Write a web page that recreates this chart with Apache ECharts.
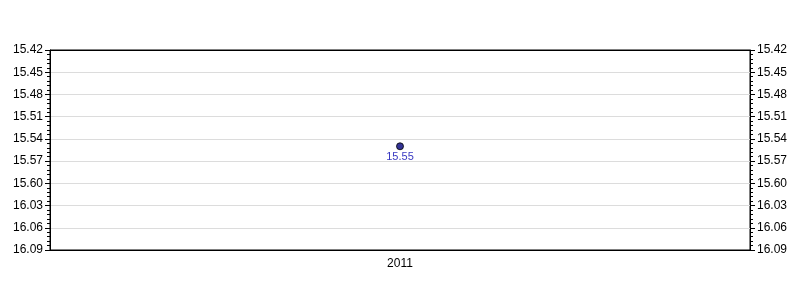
<!DOCTYPE html>
<html><head><meta charset="utf-8">
<script src="https://cdn.jsdelivr.net/npm/echarts@6/dist/echarts.min.js"></script>
<style>html,body{margin:0;padding:0;background:#fff}#c{width:800px;height:300px}</style>
</head><body><div id="c"></div>
<script>
var categories = ['2011'];
var values = [955];           // seconds (15:55)
var pointLabels = ['15.55'];
var tickLabels = ['15.42','15.45','15.48','15.51','15.54','15.57','15.60','16.03','16.06','16.09'];
var yMin = 942, yMax = 969, yStep = 3;

function fmt(v){ var i = Math.round((v - yMin) / yStep); return tickLabels[i] !== undefined ? tickLabels[i] : ''; }
var font = 'Liberation Sans, Arial, sans-serif';
function yAx(pos, grid){
  return {
    type:'value', position:pos, min:yMin, max:yMax, interval:yStep, inverse:true,
    axisLine:{show:true, lineStyle:{color:'#000', width:1}},
    axisTick:{show:true, inside:false, length:5, lineStyle:{color:'#000'}},
    minorTick:{show:true, splitNumber:5, length:3, lineStyle:{color:'#000'}},
    splitLine:{show:grid, showMinLine:false, showMaxLine:false, lineStyle:{color:'#dcdcdc', width:1}},
    axisLabel:{formatter:fmt, color:'#000', fontSize:12, fontFamily:font, margin:7}
  };
}
var chart = echarts.init(document.getElementById('c'), null, {renderer:'canvas'});
chart.setOption({
  animation:false,
  grid:{left:50, right:50, top:50, bottom:50, show:true, borderColor:'#000', borderWidth:1, backgroundColor:'transparent'},
  xAxis:[{type:'category', data:categories, boundaryGap:true,
    axisLine:{lineStyle:{color:'#000'}},
    axisTick:{alignWithLabel:true, length:5, lineStyle:{color:'#000'}},
    axisLabel:{color:'#000', fontSize:12, fontFamily:font, margin:8}},
   {type:'category', data:categories, position:'top', boundaryGap:true,
    axisLine:{show:true, lineStyle:{color:'#000'}}, axisTick:{show:false}, axisLabel:{show:false}}],
  yAxis:[yAx('left', true), yAx('right', false)],
  series:[{type:'scatter', data:values, symbol:'circle', symbolSize:7,
    itemStyle:{color:'#00007a', borderColor:'#000', borderWidth:1},
    label:{show:true, position:'bottom', distance:1, color:'#0000b0', fontSize:11, fontFamily:font,
      formatter:function(p){return pointLabels[p.dataIndex];}}}]
});
</script></body></html>
